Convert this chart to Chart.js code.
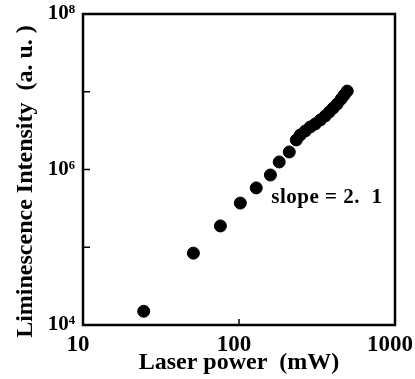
<!DOCTYPE html>
<html>
<head>
<meta charset="utf-8">
<script src="https://cdn.jsdelivr.net/npm/chart.js@4.4.1/dist/chart.umd.min.js"></script>
<style>
  body { margin: 0; background: #fff; }
  canvas { display: block; }
</style>
</head>
<body>
<canvas id="lumChart" width="415" height="379"></canvas>
<script>
// Laser power (mW) and luminescence intensity (a.u.)
const laserPower = [24.5, 51, 76, 102, 129, 159, 181, 210,
  233, 247, 266, 286, 308, 332, 357, 379, 402, 426, 452, 472, 494];
const intensity = [1.5e4, 8.4e4, 1.88e5, 3.7e5, 5.8e5, 8.5e5, 1.25e6, 1.68e6,
  2.4e6, 2.78e6, 3.13e6, 3.52e6, 3.85e6, 4.33e6, 4.88e6, 5.49e6, 6.18e6, 6.96e6, 8.07e6, 9.08e6, 1.02e7];

const xTicks = [10, 100, 1000];
const xTickLabels = ['10', '100', '1000'];
const yTicks = [1e4, 1e5, 1e6, 1e7, 1e8];
const yTickLabels = ['10⁴', '', '10⁶', '', '10⁸'];

const serif = '"Liberation Serif", "DejaVu Serif", serif';

// frame, inward ticks and the slope note
const framePlugin = {
  id: 'frame',
  afterDraw(chart) {
    const ctx = chart.ctx;
    const a = chart.chartArea;
    const xs = chart.scales.x, ys = chart.scales.y;
    ctx.save();
    ctx.strokeStyle = '#000';
    ctx.lineWidth = 2.5;
    ctx.strokeRect(a.left, a.top, a.right - a.left, a.bottom - a.top);
    ctx.lineWidth = 1.5;
    xTicks.forEach(v => {
      const px = xs.getPixelForValue(v);
      ctx.beginPath();
      ctx.moveTo(px, a.bottom);
      ctx.lineTo(px, a.bottom - 6);
      ctx.stroke();
    });
    yTicks.forEach(v => {
      const py = ys.getPixelForValue(v);
      ctx.beginPath();
      ctx.moveTo(a.left, py);
      ctx.lineTo(a.left + 7, py);
      ctx.stroke();
    });
    ctx.fillStyle = '#000';
    ctx.font = 'bold 21px ' + serif;
    ctx.letterSpacing = '0.5px';
    ctx.textAlign = 'left';
    ctx.textBaseline = 'middle';
    ctx.fillText('slope = 2.  1', xs.getPixelForValue(161), ys.getPixelForValue(4.4e5));
    ctx.restore();
  }
};

const ctx1 = document.getElementById('lumChart').getContext('2d');
new Chart(ctx1, {
  type: 'scatter',
  data: {
    datasets: [{
      data: laserPower.map((p, i) => ({ x: p, y: intensity[i] })),
      backgroundColor: '#000',
      borderColor: '#000',
      pointRadius: 6,
      pointHoverRadius: 6
    }]
  },
  options: {
    responsive: false,
    animation: false,
    devicePixelRatio: 1,
    layout: { padding: { top: 14, right: 20, left: 0, bottom: 0 } },
    plugins: {
      legend: { display: false },
      tooltip: { enabled: false }
    },
    scales: {
      x: {
        type: 'logarithmic',
        min: 10,
        max: 1000,
        afterFit(scale) {
          scale.height = 54;
          scale.paddingLeft = 0;
          scale.paddingRight = 0;
        },
        afterBuildTicks(scale) { scale.ticks = xTicks.map(v => ({ value: v })); },
        grid: { display: false, drawTicks: false },
        border: { display: false },
        ticks: {
          padding: 6,
          labelOffset: -5,
          maxRotation: 0,
          color: '#000',
          font: { family: serif, size: 23, weight: 'bold' },
          callback: (v, i) => xTickLabels[i]
        },
        title: {
          display: true,
          text: 'Laser power  (mW)',
          color: '#000',
          padding: { top: 0, bottom: 2 },
          font: { family: serif, size: 24, weight: 'bold' }
        }
      },
      y: {
        type: 'logarithmic',
        min: 1e4,
        max: 1e8,
        afterFit(scale) {
          scale.width = 83;
          scale.paddingTop = 0;
          scale.paddingBottom = 0;
        },
        afterBuildTicks(scale) { scale.ticks = yTicks.map(v => ({ value: v })); },
        grid: { display: false, drawTicks: false },
        border: { display: false },
        ticks: {
          padding: 8,
          color: '#000',
          font: { family: serif, size: 21, weight: 'bold' },
          callback: (v, i) => yTickLabels[i]
        },
        title: {
          display: true,
          text: 'Liminescence Intensity  (a. u. )    ',
          color: '#000',
          padding: { top: 11, bottom: 0 },
          font: { family: serif, size: 24, weight: 'bold' }
        }
      }
    }
  },
  plugins: [framePlugin]
});
</script>
</body>
</html>
